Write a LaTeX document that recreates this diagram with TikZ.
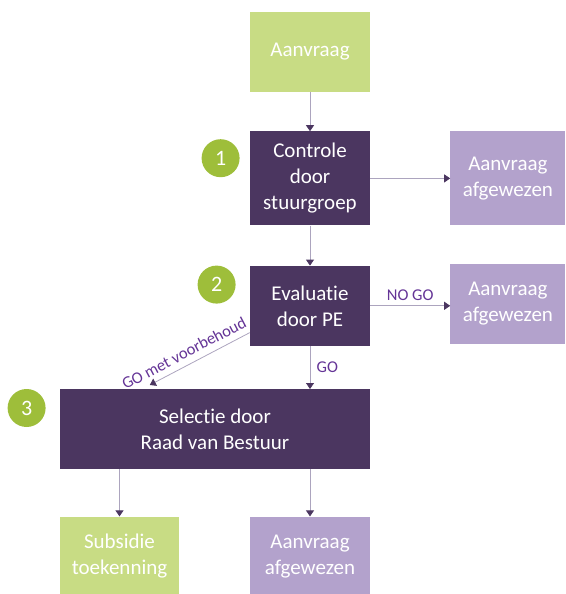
\documentclass[tikz,border=0pt]{standalone}
\usepackage{fontspec}
\setmainfont{Carlito}[Ligatures=NoCommon]
\usetikzlibrary{arrows.meta,positioning}
\definecolor{boxpurple}{RGB}{75,54,96}
\definecolor{okgreen}{RGB}{200,220,132}
\definecolor{nopurple}{RGB}{179,162,204}
\definecolor{numgreen}{RGB}{158,190,58}
\definecolor{linegray}{RGB}{172,164,190}
\definecolor{labelpurple}{RGB}{100,52,150}
\tikzstyle{stage}=[
	rectangle,
	fill=boxpurple,
	text=white,
	align=center,
	inner sep=0pt,
	minimum width=120pt,
	minimum height=80pt,
	font=\fontsize{21}{26}\selectfont
]
\tikzstyle{outcome}=[stage, fill=okgreen]
\tikzstyle{rejected}=[stage, fill=nopurple, minimum width=115pt]
\tikzstyle{number}=[
	circle,
	fill=numgreen,
	text=white,
	minimum size=38pt,
	inner sep=0pt,
	font=\fontsize{22}{26}\selectfont
]
\tikzstyle{flow}=[
	-{Triangle[length=6pt,width=8pt,color=boxpurple]},
	draw=linegray,
	line width=0.8pt
]
\tikzstyle{decision}=[text=labelpurple, font=\fontsize{16.5}{19}\selectfont]

\begin{document}
\begin{tikzpicture}[node distance=39pt and 80pt]
\useasboundingbox (0,0) rectangle (565pt,-594pt);
\node [outcome] (Aanvraag) at (310pt,-52pt) {Aanvraag};
\node [stage, minimum height=94pt] (Controle) [below=of Aanvraag] {Controle\\door\\stuurgroep};
\node [rejected, minimum height=94pt] (AfgewezenEen) [right=of Controle] {Aanvraag\\afgewezen};
\node [stage] (Evaluatie) [below=40pt of Controle] {Evaluatie\\door PE};
\node [rejected] (AfgewezenTwee) [right=of Evaluatie, yshift=2pt] {Aanvraag\\afgewezen};
\node [stage, minimum width=310pt] (Selectie) [below=43pt of Evaluatie.south east, anchor=north east] {Selectie door\\Raad van Bestuur};
\node [outcome, minimum width=119pt, minimum height=79pt] (Subsidie) [below=47pt of Selectie.south west, anchor=north west] {Subsidie\\toekenning};
\node [rejected, minimum width=120pt, minimum height=79pt] (AfgewezenDrie) [below=47pt of Selectie.south east, anchor=north east] {Aanvraag\\afgewezen};

% stappen
\node [number] (Een) [left=10pt of Controle.north west, yshift=-27pt] {1};
\node [number] (Twee) [left=14pt of Evaluatie.north west, yshift=-19pt] {2};
\node [number] (Drie) [left=14pt of Selectie.north west, yshift=-19pt] {3};

% verbindingen
\coordinate [above=4pt of Selectie.north west, xshift=90pt] (Voorbehoud);
\draw [flow] (Aanvraag) -- (Controle);
\draw [flow] (Controle) -- (AfgewezenEen);
\draw [flow] (Controle) -- (Evaluatie);
\draw [flow] (Evaluatie) -- node [decision, above, yshift=1pt] {NO GO} (Evaluatie.east -| AfgewezenTwee.west);
\draw [flow] (Evaluatie) -- node [decision, right, xshift=3pt] {GO} (Evaluatie.south |- Selectie.north);
\draw [flow] (Evaluatie.204) -- node [decision, above=3pt, sloped, pos=0.6] {GO met voorbehoud} (Voorbehoud);
\draw [flow] (Selectie.south -| Subsidie.north) -- (Subsidie);
\draw [flow] (Selectie.south -| AfgewezenDrie.north) -- (AfgewezenDrie);
\end{tikzpicture}
\end{document}
